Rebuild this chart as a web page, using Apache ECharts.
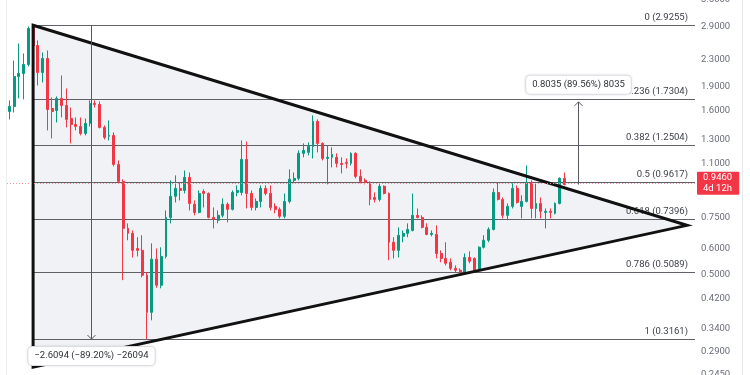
<!DOCTYPE html>
<html><head><meta charset="utf-8">
<script src="https://cdn.jsdelivr.net/npm/echarts@6/dist/echarts.min.js"></script>
<style>html,body{margin:0;padding:0;background:#fff}#c{width:750px;height:375px}</style>
</head><body><div id="c"></div>
<script>
// ---- data ----
const opens = [1.588,1.645,2.035,2.078,2.216,2.900,2.535,2.093,2.312,1.622,1.599,1.742,1.657,1.511,1.448,1.428,1.359,1.459,1.681,1.669,
1.418,1.331,1.340,1.091,0.967,0.693,0.669,0.601,0.593,0.497,0.382,0.557,0.463,0.568,0.749,0.870,0.920,0.907,0.995,0.822,
0.776,0.900,0.888,0.749,0.734,0.760,0.822,0.793,0.894,0.894,1.130,0.888,0.804,0.839,0.920,0.888,0.810,0.793,0.755,0.839,
0.974,0.988,1.180,1.188,1.239,1.480,1.266,1.138,1.147,1.147,1.099,1.107,1.099,1.180,1.002,0.974,0.960,0.863,0.851,0.934,
0.888,0.628,0.593,0.655,0.669,0.683,0.760,0.749,0.698,0.664,0.664,0.580,0.560,0.545,0.522,0.515,0.508,0.564,0.560,0.515,
0.606,0.637,0.688,0.894,0.851,0.760,0.810,0.920,0.810,0.839,0.960,0.798,0.827,0.776,0.782,0.771,0.827,0.988];
const closes = [1.645,2.035,2.078,2.216,2.859,2.535,2.093,2.312,1.610,1.588,1.742,1.657,1.501,1.448,1.428,1.359,1.459,1.681,1.669,1.418,
1.321,1.340,1.091,0.967,0.693,0.669,0.593,0.593,0.497,0.382,0.557,0.463,0.568,0.749,0.870,0.920,0.907,0.995,0.827,0.776,
0.888,0.888,0.749,0.739,0.760,0.822,0.793,0.894,0.907,1.130,0.888,0.804,0.839,0.920,0.888,0.804,0.793,0.755,0.839,0.981,
0.988,1.180,1.205,1.239,1.480,1.266,1.138,1.147,1.171,1.099,1.091,1.099,1.180,1.002,0.967,0.960,0.851,0.851,0.934,0.888,
0.628,0.593,0.660,0.669,0.688,0.760,0.749,0.698,0.664,0.669,0.580,0.560,0.541,0.522,0.515,0.508,0.564,0.549,0.515,0.606,
0.637,0.688,0.894,0.851,0.760,0.810,0.920,0.833,0.839,0.960,0.798,0.827,0.782,0.782,0.776,0.827,0.988,0.946];
const lows = [1.501,1.577,1.742,1.730,2.184,2.413,1.909,1.950,1.388,1.312,1.469,1.522,1.418,1.266,1.388,1.340,1.340,1.428,1.633,1.408,
1.302,1.293,1.075,0.954,0.480,0.637,0.564,0.568,0.490,0.3161,0.361,0.455,0.453,0.560,0.718,0.833,0.845,0.888,0.787,0.760,
0.771,0.804,0.744,0.693,0.718,0.749,0.723,0.787,0.870,0.876,0.798,0.787,0.787,0.804,0.876,0.787,0.771,0.744,0.744,0.827,
0.954,0.974,1.147,1.163,1.138,1.188,1.122,0.947,1.068,1.068,1.023,1.060,1.083,0.988,0.954,0.947,0.816,0.833,0.839,0.882,
0.553,0.560,0.564,0.628,0.651,0.678,0.744,0.693,0.660,0.655,0.560,0.545,0.533,0.515,0.508,0.504,0.504,0.541,0.508,0.508,
0.601,0.628,0.683,0.845,0.744,0.734,0.798,0.827,0.744,0.833,0.744,0.744,0.744,0.693,0.744,0.765,0.822,0.940];
const highs = [1.717,2.279,2.571,2.395,2.900,2.9255,2.626,2.413,2.447,1.754,1.767,2.049,1.869,1.633,1.522,1.522,1.511,1.717,1.717,1.705,
1.438,1.490,1.369,1.122,0.981,0.718,0.683,0.651,0.660,0.508,0.623,0.601,0.606,0.787,0.974,1.009,0.960,1.045,1.030,0.845,
0.907,0.914,0.894,0.804,0.787,0.857,0.833,0.907,0.940,1.293,1.284,0.907,0.857,0.940,0.940,0.940,0.827,0.804,0.888,1.053,
1.030,1.205,1.266,1.275,1.544,1.501,1.275,1.248,1.231,1.180,1.147,1.138,1.188,1.188,1.053,0.988,0.967,0.894,0.960,0.940,
0.894,0.651,0.698,0.683,0.718,0.888,0.798,0.760,0.718,0.683,0.708,0.593,0.628,0.560,0.533,0.522,0.580,0.589,0.564,0.610,
0.660,0.698,0.920,0.960,0.863,0.827,0.954,0.940,0.876,1.083,0.974,0.954,0.863,0.798,0.798,0.833,0.995,1.030];

const slotCount = 145;                 // candle slots incl. empty space right of the last candle
const fibLevels = ['0','0.236','0.382','0.5','0.618','0.786','1'];
const fibPrices = [2.9255,1.7304,1.2504,0.9617,0.7396,0.5089,0.3161];
const fibStartIndex = 5;
const tickValues = [3.5,2.9,2.3,1.9,1.6,1.3,1.1,0.75,0.6,0.5,0.42,0.34,0.29,0.245];
const axisMin = 0.245, axisMax = 3.5;
const lastPrice = 0.946;
const countdown = '4d 12h';
const triStartIndex = 5, triTopPrice = 2.9255, triBottomPrice = 0.259;
const triApexIndex = 142.8, triApexPrice = 0.708;
const measureIndex = [17.1, 119.8];
const measureFrom = [2.9255, 0.946];
const measureTo = [0.3161, 1.70];
const measureText = ['\u22122.6094 (\u221289.20%) \u221226094', '0.8035 (89.56%) 8035'];

// ---- chart ----
const L = Math.log10;
const FONT = 'Roboto, "DejaVu Sans", sans-serif';
const FS = 9.5;
const categories = Array.from({length: slotCount}, (_, i) => String(i));
const candleData = opens.map((o, i) => [L(o), L(closes[i]), L(lows[i]), L(highs[i])]);
const UP = '#089981', DOWN = '#f23645';

const chart = echarts.init(document.getElementById('c'), null, {renderer: 'canvas'});
chart.setOption({
  animation: false,
  backgroundColor: '#ffffff',
  grid: {left: 7, right: 55, top: 0, bottom: 0, containLabel: false, outerBoundsMode: 'none'},
  xAxis: [
    {type: 'category', data: categories, boundaryGap: true, show: false},
    {type: 'value', min: -0.5, max: slotCount - 0.5, show: false}
  ],
  yAxis: {
    type: 'value', position: 'right', min: L(axisMin), max: L(axisMax),
    splitLine: {show: false}, axisLine: {show: false}, axisTick: {show: false},
    axisLabel: {
      customValues: tickValues.map(L), margin: 6,
      color: '#6a6d78', fontSize: FS, fontFamily: FONT,
      formatter: v => Math.pow(10, v).toFixed(4)
    }
  },
  graphic: [
    {type: 'line', shape: {x1: 6.5, y1: 0, x2: 6.5, y2: 375}, style: {stroke: '#eceef2', lineWidth: 1}, silent: true},
    {type: 'line', shape: {x1: 742.5, y1: 0, x2: 742.5, y2: 375}, style: {stroke: '#e6e8ee', lineWidth: 1}, silent: true}
  ],
  series: [
    { // triangle fill
      type: 'custom', xAxisIndex: 1, yAxisIndex: 0, z: 1, silent: true,
      data: [[triStartIndex, L(triTopPrice)]],
      renderItem: (p, api) => {
        const a = api.coord([triStartIndex, L(triTopPrice)]);
        const b = api.coord([triApexIndex, L(triApexPrice)]);
        const c = api.coord([triStartIndex, L(triBottomPrice)]);
        return {type: 'polygon', shape: {points: [a, b, c]}, style: {fill: '#f0f2f5'}};
      }
    },
    { // fib levels
      type: 'custom', xAxisIndex: 1, yAxisIndex: 0, z: 2, silent: true,
      data: fibPrices.map((v, i) => [fibStartIndex, L(v), i]),
      renderItem: (p, api) => {
        const i = api.value(2);
        const s = api.coord([api.value(0), api.value(1)]);
        const e = api.coord([slotCount - 0.5, api.value(1)]);
        const y = Math.round(s[1]) + 0.5;
        return {type: 'group', children: [
          {type: 'line', shape: {x1: s[0], y1: y, x2: e[0], y2: y}, style: {stroke: '#5f6166', lineWidth: 1}},
          {type: 'text', x: e[0] - 7, y: y - 2.5, style: {
            text: fibLevels[i] + ' (' + fibPrices[i].toFixed(4) + ')',
            fill: '#3c3f47', font: FS + 'px ' + FONT, align: 'right', verticalAlign: 'bottom'}}
        ]};
      }
    },
    { // candles
      type: 'candlestick', xAxisIndex: 0, yAxisIndex: 0, z: 3,
      data: candleData, barWidth: 2.4,
      itemStyle: {color: UP, color0: DOWN, borderColor: UP, borderColor0: DOWN, borderWidth: 1},
      markLine: {
        silent: true, symbol: 'none', animation: false,
        lineStyle: {color: '#f4949c', type: [1, 2], width: 1},
        label: {
          show: true, position: 'end', distance: 2,
          formatter: () => lastPrice.toFixed(4) + '\n' + countdown,
          backgroundColor: DOWN, color: '#ffffff', fontSize: FS, fontFamily: FONT,
          lineHeight: 10.5, padding: [1, 7, 1, 6], borderRadius: 1
        },
        data: [{yAxis: L(lastPrice)}]
      }
    },
    { // triangle edges
      type: 'custom', xAxisIndex: 1, yAxisIndex: 0, z: 4, silent: true,
      data: [[triStartIndex, L(triTopPrice)]],
      renderItem: (p, api) => {
        const a = api.coord([triStartIndex, L(triTopPrice)]);
        const b = api.coord([triApexIndex, L(triApexPrice)]);
        const c = api.coord([triStartIndex, L(triBottomPrice)]);
        return {type: 'polygon', shape: {points: [a, b, c]},
          style: {fill: null, stroke: '#111111', lineWidth: 3, lineJoin: 'miter'}};
      }
    },
    { // measure arrows with labels
      type: 'custom', xAxisIndex: 1, yAxisIndex: 0, z: 5, silent: true,
      data: measureIndex.map((x, i) => [x, L(measureFrom[i]), L(measureTo[i]), i]),
      renderItem: (p, api) => {
        const i = api.value(3);
        const f = api.coord([api.value(0), api.value(1)]);
        const t = api.coord([api.value(0), api.value(2)]);
        const x = Math.round(f[0]) + 0.5;
        const dir = t[1] > f[1] ? 1 : -1;
        return {type: 'group', children: [
          {type: 'line', shape: {x1: x, y1: f[1], x2: x, y2: t[1]}, style: {stroke: '#55585f', lineWidth: 1}},
          {type: 'polyline', shape: {points: [[x - 4, t[1] - dir * 4], [x, t[1]], [x + 4, t[1] - dir * 4]]},
            style: {stroke: '#55585f', lineWidth: 1, fill: null}},
          {type: 'text', x: x, y: t[1] + dir * 17, style: {
            text: measureText[i], fill: '#2f3238', font: FS + 'px ' + FONT,
            align: 'center', verticalAlign: 'middle',
            backgroundColor: '#ffffff', borderColor: '#e3e5ea', borderWidth: 1, borderRadius: 4,
            padding: [4, 6, 4, 6], shadowBlur: 3, shadowColor: 'rgba(0,0,0,0.10)'}}
        ]};
      }
    }
  ]
});
</script></body></html>
